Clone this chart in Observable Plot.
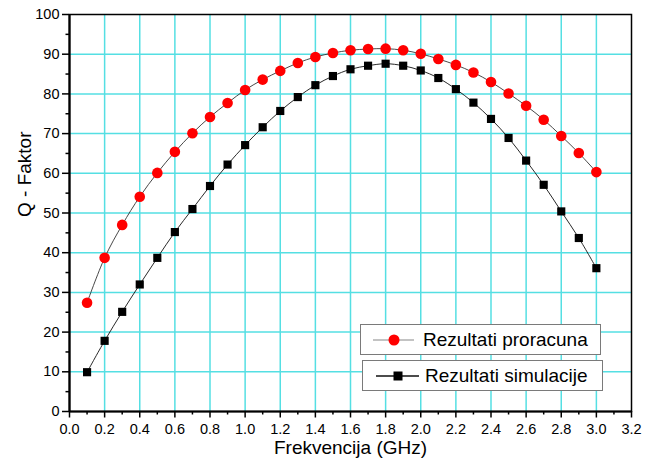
<!DOCTYPE html>
<html>
<head>
<meta charset="utf-8">
<script src="https://cdn.jsdelivr.net/npm/d3@7"></script>
<script src="https://cdn.jsdelivr.net/npm/@observablehq/plot@0.6"></script>
<style>
  html, body { margin: 0; padding: 0; background: #fff; }
  #wrap { position: relative; width: 656px; height: 464px; font-family: "Liberation Sans", Arial, sans-serif; }
  .lg { position: absolute; background: #fff; border: 1px solid #7a7a7a; box-sizing: border-box; height: 31px; display: flex; align-items: center; font-size: 19px; color: #000; }
  .lg svg { display: block; }
</style>
</head>
<body>
<div id="wrap"></div>
<script>
// Data
const freq = [0.1,0.2,0.3,0.4,0.5,0.6,0.7,0.8,0.9,1.0,1.1,1.2,1.3,1.4,1.5,1.6,1.7,1.8,1.9,2.0,2.1,2.2,2.3,2.4,2.5,2.6,2.7,2.8,2.9,3.0];
const proracun = [27.4,38.7,47.0,54.1,60.1,65.4,70.1,74.2,77.7,81.0,83.6,85.8,87.8,89.3,90.3,91.0,91.3,91.4,91.0,90.1,88.8,87.3,85.4,83.0,80.1,77.0,73.5,69.4,65.1,60.3];
const simulacija = [9.9,17.8,25.1,32.0,38.7,45.2,51.0,56.8,62.2,67.1,71.6,75.7,79.2,82.2,84.5,86.2,87.1,87.6,87.1,85.9,84.0,81.2,77.8,73.7,68.9,63.2,57.1,50.4,43.7,36.1];
const seriesNames = ["Rezultati proracuna", "Rezultati simulacije"];
const xTicks = [0,0.2,0.4,0.6,0.8,1.0,1.2,1.4,1.6,1.8,2.0,2.2,2.4,2.6,2.8,3.0,3.2];
const xMinor = [0.1,0.3,0.5,0.7,0.9,1.1,1.3,1.5,1.7,1.9,2.1,2.3,2.5,2.7,2.9,3.1];
const yTicks = [0,10,20,30,40,50,60,70,80,90,100];
const yMinor = [5,15,25,35,45,55,65,75,85,95];
const xLabel = "Frekvencija (GHz)";
const yLabel = "Q - Faktor";

const red = freq.map((f, i) => ({x: f, y: proracun[i]}));
const blk = freq.map((f, i) => ({x: f, y: simulacija[i]}));
const grid = "#55dfe3";

const chart = Plot.plot({
  width: 656,
  height: 464,
  marginLeft: 69,
  marginRight: 25,
  marginTop: 14,
  marginBottom: 53,
  style: {fontFamily: "'Liberation Sans', Arial, sans-serif", background: "#fff", color: "#000"},
  x: {domain: [0, 3.2]},
  y: {domain: [0, 100]},
  marks: [
    Plot.ruleX(xTicks.slice(1, -1), {stroke: grid, strokeWidth: 1.5}),
    Plot.ruleY(yTicks.slice(1, -1), {stroke: grid, strokeWidth: 1.5}),
    Plot.axisX({ticks: xMinor, tickSize: 3.5, text: null, label: null, strokeWidth: 1.5}),
    Plot.axisX({ticks: xTicks, tickSize: 6.5, tickPadding: 6, tickFormat: d3.format(".1f"), fontSize: 14.5, label: null, strokeWidth: 1.5}),
    Plot.axisY({ticks: yMinor, tickSize: 3.5, text: null, label: null, strokeWidth: 1.5}),
    Plot.axisY({ticks: yTicks, tickSize: 7, tickPadding: 3, fontSize: 14.5, label: null, strokeWidth: 1.5}),
    Plot.frame({stroke: "#000", strokeWidth: 1.5}),
    Plot.ruleX([0], {stroke: "#000", strokeWidth: 2.2}),
    Plot.ruleY([0], {stroke: "#000", strokeWidth: 2.2}),
    Plot.line(red, {x: "x", y: "y", curve: "catmull-rom", stroke: "#333", strokeWidth: 0.9}),
    Plot.line(blk, {x: "x", y: "y", curve: "catmull-rom", stroke: "#111", strokeWidth: 0.9}),
    Plot.dot(red, {x: "x", y: "y", r: 5.3, fill: "#ff0000", stroke: "none"}),
    Plot.dot(blk, {x: "x", y: "y", r: 4.6, symbol: "square", fill: "#000", stroke: "none"}),
    Plot.text([xLabel], {frameAnchor: "bottom", dy: 42, fontSize: 19, fill: "#000"}),
    Plot.text([yLabel], {frameAnchor: "left", rotate: -90, dx: -45, dy: 4, fontSize: 19, fill: "#000"})
  ]
});

const wrap = document.getElementById("wrap");
wrap.appendChild(chart);

function legendItem(name, left, top, width, kind) {
  const d = document.createElement("div");
  d.className = "lg";
  d.style.left = left + "px";
  d.style.top = top + "px";
  d.style.width = width + "px";
  const sym = kind === "circle"
    ? `<svg width="62" height="20"><line x1="12" y1="10" x2="53" y2="10" stroke="#888" stroke-width="1.2"/><circle cx="33" cy="10" r="5.5" fill="#ff0000"/></svg>`
    : `<svg width="62" height="20"><line x1="13" y1="10" x2="56" y2="10" stroke="#111" stroke-width="1.5"/><rect x="30.5" y="5.5" width="9" height="9" fill="#000"/></svg>`;
  d.innerHTML = sym + `<span>${name}</span>`;
  wrap.appendChild(d);
}
legendItem(seriesNames[0], 360, 324, 241, "circle");
legendItem(seriesNames[1], 362, 360, 241, "square");
</script>
</body>
</html>
